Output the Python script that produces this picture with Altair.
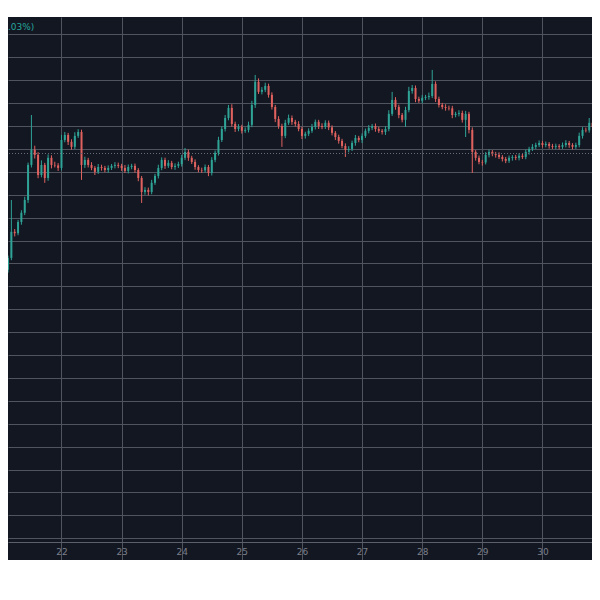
import altair as alt
import pandas as pd

# ---- data (80-minute candles) ----
first_open = 9460
close = [
    9472, 9524, 9638, 9632, 9681, 9721, 9777, 9930, 9996, 9974,
    9886, 9930, 9873, 9961, 9930, 9928, 9917, 10039, 10061, 10031,
    10009, 10057, 10074, 9930, 9952, 9930, 9917, 9900, 9921, 9917,
    9908, 9917, 9926, 9930, 9926, 9917, 9904, 9921, 9926, 9908,
    9873, 9812, 9821, 9812, 9852, 9882, 9917, 9952, 9926, 9939,
    9921, 9926, 9934, 9961, 9987, 9961, 9943, 9921, 9908, 9906,
    9921, 9895, 9952, 9983, 10039, 10087, 10135, 10179, 10109, 10087,
    10096, 10079, 10083, 10105, 10192, 10293, 10249, 10258, 10275, 10236,
    10183, 10131, 10100, 10057, 10114, 10135, 10118, 10109, 10087, 10057,
    10066, 10079, 10096, 10118, 10100, 10096, 10114, 10094, 10070, 10052,
    10035, 10013, 9996, 10000, 10026, 10048, 10039, 10057, 10079, 10092,
    10100, 10087, 10079, 10074, 10087, 10153, 10214, 10183, 10148, 10127,
    10170, 10253, 10266, 10218, 10210, 10223, 10227, 10231, 10284, 10218,
    10192, 10183, 10179, 10177, 10148, 10153, 10157, 10127, 10153, 10083,
    9987, 9961, 9943, 9941, 9974, 9987, 9978, 9974, 9965, 9956,
    9948, 9961, 9965, 9961, 9970, 9965, 9987, 10000, 10009, 10017,
    10026, 10017, 10022, 10013, 10009, 10013, 10009, 10017, 10026, 10017,
    10009, 10017, 10057, 10083, 10081, 10114, 10096,
]
upper_wick = [
    8, 10, 139, 12, 9, 11, 14, 10, 152, 18,
    12, 20, 9, 15, 11, 14, 10, 22, 13, 9,
    11, 16, 12, 10, 14, 9, 12, 8, 13, 10,
    9, 11, 8, 12, 10, 9, 13, 11, 9, 10,
    8, 9, 12, 10, 13, 9, 14, 11, 10, 12,
    9, 11, 10, 13, 17, 10, 9, 11, 8, 10,
    11, 9, 12, 10, 14, 11, 13, 13, 16, 10,
    12, 9, 11, 14, 18, 30, 15, 12, 14, 10,
    11, 9, 12, 10, 13, 15, 11, 9, 12, 10,
    9, 11, 13, 10, 9, 12, 11, 10, 9, 8,
    10, 9, 11, 12, 10, 13, 9, 11, 10, 12,
    9, 11, 10, 8, 12, 16, 35, 12, 10, 9,
    14, 18, 13, 11, 10, 12, 9, 15, 61, 11,
    10, 9, 12, 10, 11, 9, 12, 10, 13, 9,
    11, 8, 10, 9, 12, 10, 8, 9, 11, 8,
    9, 10, 8, 9, 11, 8, 10, 9, 12, 10,
    11, 9, 10, 8, 9, 10, 8, 11, 12, 9,
    8, 10, 14, 12, 10, 21, 11,
]
lower_wick = [
    15, 12, 10, 14, 9, 12, 10, 13, 11, 16,
    14, 10, 21, 12, 15, 9, 13, 11, 10, 14,
    12, 10, 9, 65, 13, 11, 10, 14, 9, 12,
    10, 12, 9, 11, 10, 13, 9, 11, 10, 12,
    14, 48, 12, 15, 10, 9, 11, 10, 13, 9,
    10, 12, 9, 11, 10, 13, 9, 12, 10, 11,
    9, 14, 11, 10, 12, 9, 11, 10, 12, 13,
    10, 12, 9, 11, 10, 13, 9, 11, 10, 12,
    11, 14, 12, 48, 10, 9, 13, 11, 10, 14,
    12, 10, 9, 11, 13, 10, 9, 12, 11, 13,
    12, 10, 31, 11, 9, 12, 10, 13, 9, 11,
    10, 12, 9, 11, 13, 10, 9, 12, 14, 11,
    31, 10, 12, 14, 9, 11, 10, 12, 9, 13,
    11, 10, 12, 9, 14, 10, 11, 12, 75, 15,
    92, 12, 10, 14, 9, 11, 10, 12, 9, 11,
    10, 9, 12, 10, 11, 9, 10, 12, 9, 10,
    9, 11, 10, 12, 9, 10, 11, 9, 10, 12,
    11, 9, 10, 12, 9, 10, 11,
]
grid_prices = [10500, 10400, 10300, 10200, 10100, 10000, 9900, 9800, 9700, 9600,
               9500, 9400, 9300, 9200, 9100, 9000, 8900, 8800, 8700, 8600,
               8500, 8400, 8300]
day_ticks = [22, 23, 24, 25, 26, 27, 28, 29, 30]
price_line = 9980
pct_text = ".03%)"

# ---- table ----
n = len(close)
times = pd.date_range("2019-10-21 01:20", periods=n, freq="80min")
opens = [first_open] + close[:-1]
df = pd.DataFrame({
    "time": times.strftime("%Y-%m-%dT%H:%M:%SZ"),
    "open": opens,
    "close": close,
})
df["high"] = [max(o, c) + u for o, c, u in zip(opens, close, upper_wick)]
df["low"] = [min(o, c) - l for o, c, l in zip(opens, close, lower_wick)]
df["dir"] = ["up" if c >= o else "down" for o, c in zip(opens, close)]

UP = "#2ea396"
DOWN = "#e0625f"
BG = "#131722"
GRID = "#50545f"

xscale = alt.Scale(
    type="utc",
    domain=[alt.DateTime(year=2019, month=10, date=21, hours=4, minutes=39, utc=True),
            alt.DateTime(year=2019, month=10, date=30, hours=17, minutes=47, utc=True)],
)
xaxis = alt.Axis(values=[alt.DateTime(year=2019, month=10, date=d, utc=True) for d in day_ticks],
                 format="%d", grid=True, gridColor=GRID, gridWidth=1,
                 offset=-18, ticks=False, domain=True, domainColor="#5d606b",
                 labelColor="#7b7f8a", labelFontSize=9, labelFont="DejaVu Sans",
                 labelPadding=5, title=None)
yscale = alt.Scale(domain=[8205, 10576], nice=False, zero=False)
yaxis = alt.Axis(values=grid_prices, labels=False, ticks=False, domain=False,
                 grid=True, gridColor=GRID, gridWidth=1, title=None)
color = alt.Color("dir:N", scale=alt.Scale(domain=["up", "down"], range=[UP, DOWN]), legend=None)

base = alt.Chart(df)

wicks = base.mark_rule(strokeWidth=1, clip=True).encode(
    x=alt.X("time:T", scale=xscale, axis=xaxis),
    y=alt.Y("low:Q", scale=yscale, axis=yaxis),
    y2="high:Q",
    color=color,
)

bodies = base.mark_bar(size=2, clip=True).encode(
    x=alt.X("time:T", scale=xscale, axis=xaxis),
    y=alt.Y("open:Q", scale=yscale, axis=yaxis),
    y2="close:Q",
    color=color,
)

pline = alt.Chart(pd.DataFrame({"p": [price_line]})).mark_rule(
    strokeDash=[1, 2], color="#6a6e7a", strokeWidth=1
).encode(y=alt.Y("p:Q", scale=yscale, axis=yaxis))

label = alt.Chart(pd.DataFrame({"t": [pct_text]})).mark_text(
    align="left", baseline="middle", fontSize=9, font="DejaVu Sans", color="#26a69a"
).encode(x=alt.value(0), y=alt.value(10), text="t:N")

chart = alt.layer(wicks, bodies, pline, label).properties(
    width=584, height=543,
    autosize=alt.AutoSizeParams(type="none"),
    padding={"left": 0, "right": 0, "top": 9, "bottom": 0},
    background="white",
).configure_view(fill=BG, strokeWidth=0)

chart.save("out.html", embed_options={"renderer": "svg", "actions": False})
